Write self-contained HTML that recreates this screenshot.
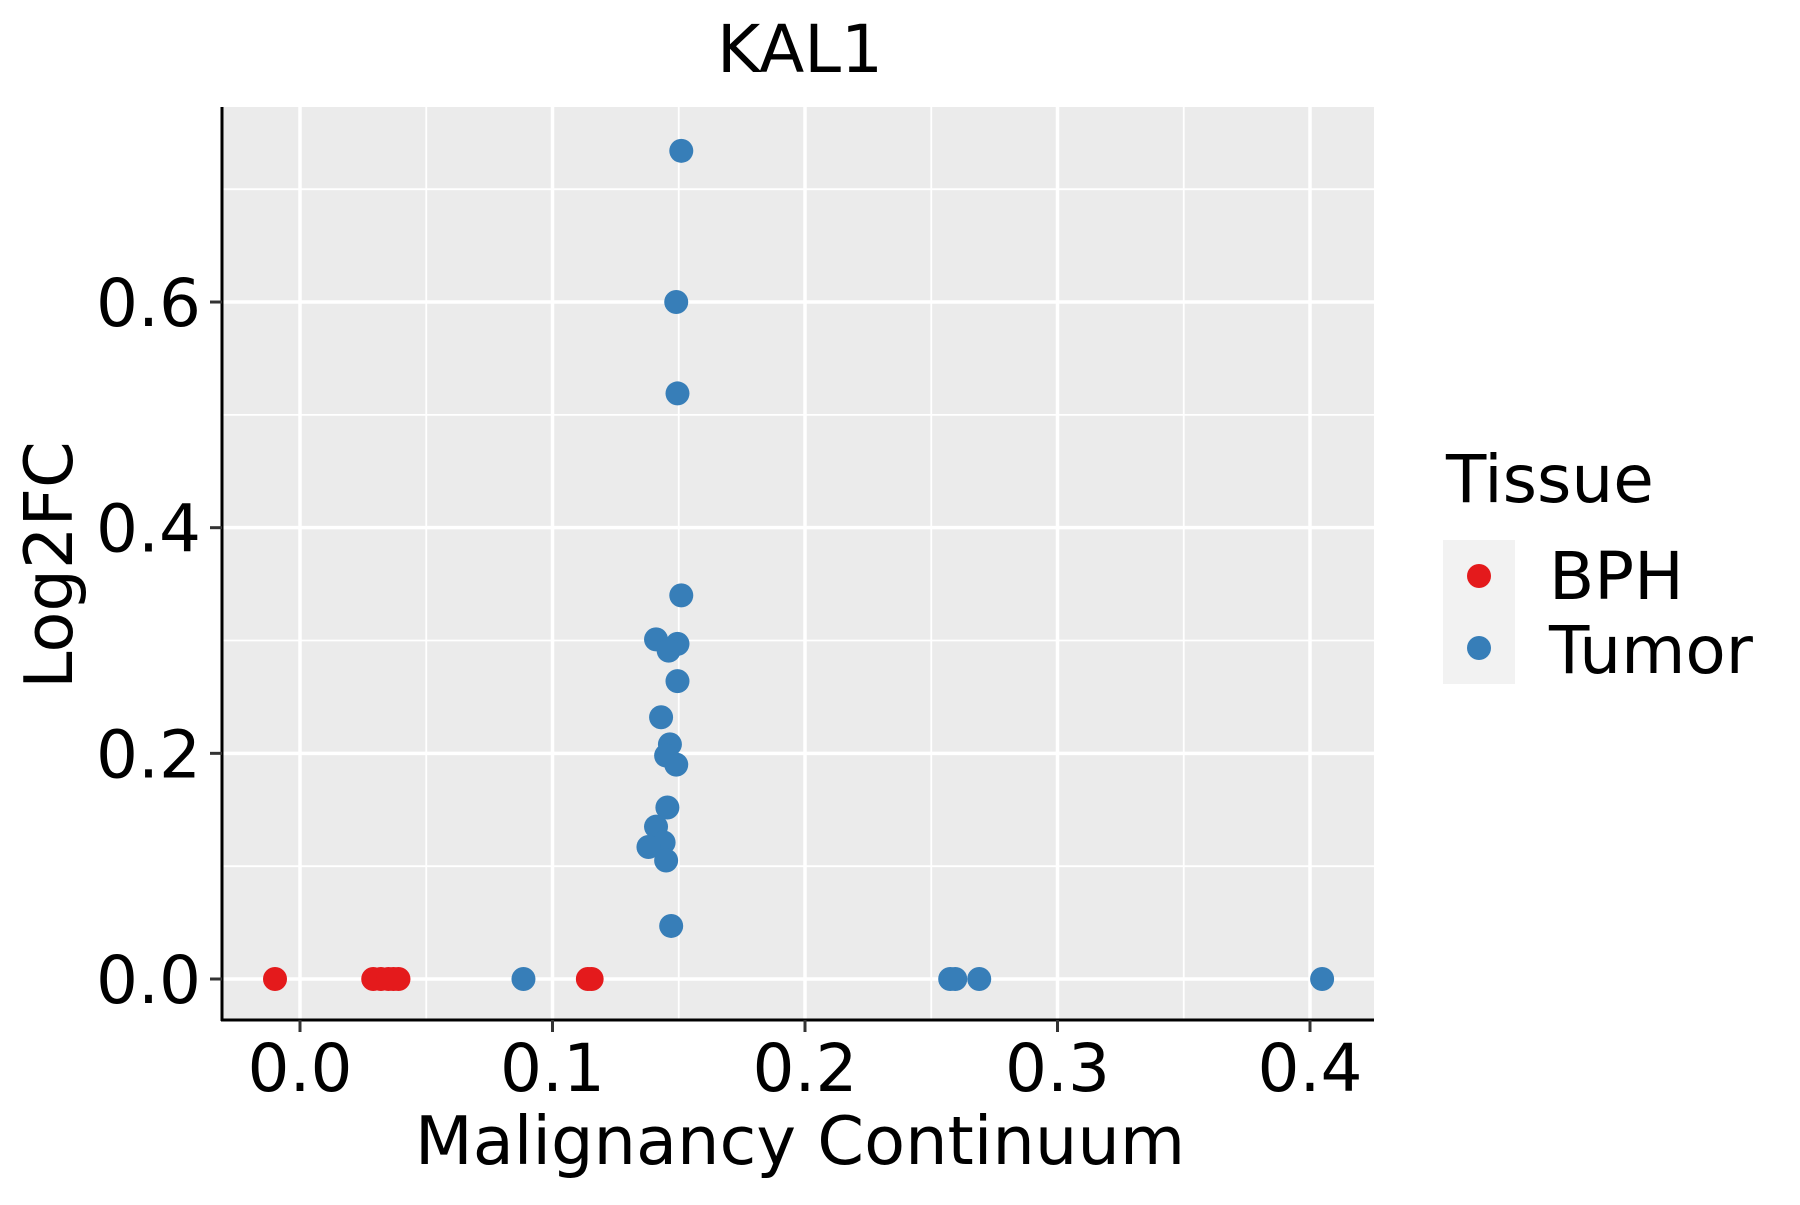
<!DOCTYPE html>
<html><head><meta charset="utf-8"><style>
html,body{margin:0;padding:0;background:#fff;}
svg text{font-family:"DejaVu Sans","Liberation Sans",sans-serif;fill:#000;}
</style></head><body>
<svg id="chart" width="1800" height="1200" viewBox="0 0 1800 1200" xmlns="http://www.w3.org/2000/svg">
<rect x="0" y="0" width="1800" height="1200" fill="#fff"/>
<text x="800" y="72" font-size="66" text-anchor="middle">KAL1</text>
<rect x="222" y="107" width="1152" height="913" fill="#ebebeb"/>
<g id="grid"></g>
<g id="points"></g>
<line x1="222" y1="107" x2="222" y2="1021" stroke="#000" stroke-width="3"/>
<line x1="221" y1="1020" x2="1374" y2="1020" stroke="#000" stroke-width="3"/>
<g id="axes"></g>
<text x="800" y="1164" font-size="67" text-anchor="middle">Malignancy Continuum</text>
<text x="0" y="0" font-size="67" text-anchor="middle" transform="translate(72,565) rotate(-90)">Log2FC</text>
<g>
<text x="1446" y="502" font-size="66">Tissue</text>
<rect x="1443" y="540" width="72" height="144" fill="#f2f2f2"/>
<circle cx="1479" cy="576" r="12" fill="#e41a1c"/>
<circle cx="1479" cy="648" r="12" fill="#377eb8"/>
<text x="1549" y="599" font-size="66">BPH</text>
<text x="1549" y="673" font-size="66">Tumor</text>
</g>
</svg>
<script>
const xTicks = [0.0, 0.1, 0.2, 0.3, 0.4];
const xTickLabels = ["0.0", "0.1", "0.2", "0.3", "0.4"];
const yTicks = [0.0, 0.2, 0.4, 0.6];
const yTickLabels = ["0.0", "0.2", "0.4", "0.6"];
const xMinor = [-0.05, 0.05, 0.15, 0.25, 0.35];
const yMinor = [0.1, 0.3, 0.5, 0.7];
const bphX = [-0.0099, 0.029, 0.032, 0.035, 0.037, 0.039, 0.1140, 0.1155];
const bphY = [0, 0, 0, 0, 0, 0, 0, 0];
const tumorX = [0.0885, 0.2575, 0.2595, 0.269, 0.4048, 0.151, 0.149, 0.1495, 0.151, 0.141, 0.1495, 0.146, 0.1495, 0.143, 0.1465, 0.145, 0.149, 0.1455, 0.141, 0.144, 0.138, 0.145, 0.147];
const tumorY = [0, 0, 0, 0, 0, 0.734, 0.600, 0.519, 0.340, 0.301, 0.297, 0.291, 0.264, 0.232, 0.208, 0.198, 0.190, 0.152, 0.135, 0.121, 0.117, 0.105, 0.047];

const NS = "http://www.w3.org/2000/svg";
const L = 222, R = 1374, T = 107, B = 1020;
function xs(v){ return 300 + v * 2525; }
function ys(v){ return 979 - v * 1128.3; }
function mk(tag, attrs, parent){
  const e = document.createElementNS(NS, tag);
  for (const k in attrs) e.setAttribute(k, attrs[k]);
  parent.appendChild(e);
  return e;
}
const grid = document.getElementById('grid');
xMinor.forEach(v => { const x = xs(v); if (x > L && x < R) {
  const l = mk('line', {x1:x, y1:T, x2:x, y2:B, stroke:'#fff', 'stroke-width':1.8}, grid);
  
  
}});
yMinor.forEach(v => { const y = ys(v); if (y > T && y < B) {
  const l = mk('line', {x1:L, y1:y, x2:R, y2:y, stroke:'#fff', 'stroke-width':1.8}, grid);
  
  
}});
xTicks.forEach(v => { const x = xs(v);
  const l = mk('line', {x1:x, y1:T, x2:x, y2:B, stroke:'#fff', 'stroke-width':3.5}, grid);
  
  
});
yTicks.forEach(v => { const y = ys(v);
  const l = mk('line', {x1:L, y1:y, x2:R, y2:y, stroke:'#fff', 'stroke-width':3.5}, grid);
  
  
});
const pts = document.getElementById('points');
bphX.forEach((v, i) => {
  const c = mk('circle', {cx:xs(v), cy:ys(bphY[i]), r:12, fill:'#e41a1c'}, pts);
  
  
});
tumorX.forEach((v, i) => {
  const c = mk('circle', {cx:xs(v), cy:ys(tumorY[i]), r:12, fill:'#377eb8'}, pts);
  
  
});
const axes = document.getElementById('axes');
xTicks.forEach((v, i) => { const x = xs(v);
  const t = mk('line', {x1:x, y1:B, x2:x, y2:B + 12, stroke:'#333', 'stroke-width':3}, axes);
  
  
  const tx = mk('text', {x:x, y:1091, 'font-size':66, 'text-anchor':'middle'}, axes);
  tx.textContent = xTickLabels[i];
  
  
});
yTicks.forEach((v, i) => { const y = ys(v);
  const t = mk('line', {x1:L - 12, y1:y, x2:L, y2:y, stroke:'#333', 'stroke-width':3}, axes);
  
  
  const tx = mk('text', {x:201, y:y + 24, 'font-size':66, 'text-anchor':'end'}, axes);
  tx.textContent = yTickLabels[i];
  
  
});
</script>
</body></html>
